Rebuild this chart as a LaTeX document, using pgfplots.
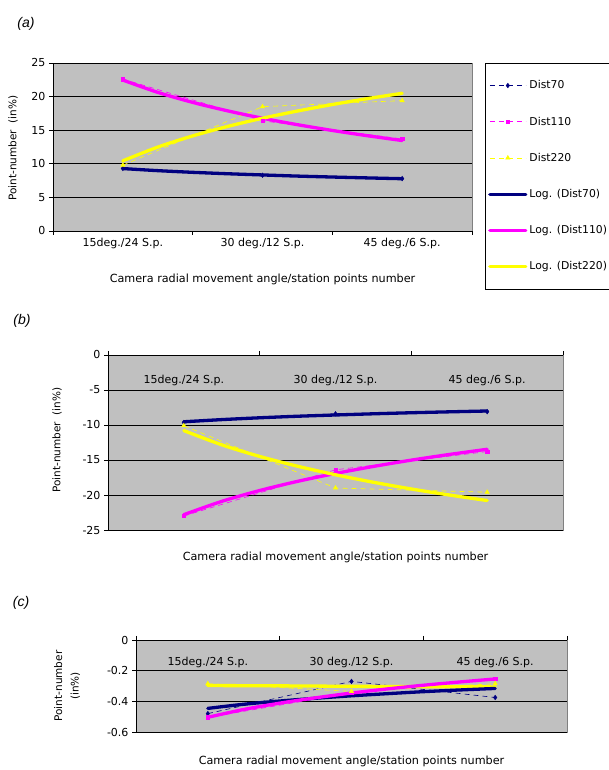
\documentclass[border=0pt]{standalone}
\usepackage{fontspec}
\setmainfont{DejaVu Sans}
\newfontfamily\arialfont{Liberation Sans}
\usepackage{pgfplots}
\pgfplotsset{compat=1.18}
\definecolor{bgray}{HTML}{C0C0C0}
\definecolor{navy}{HTML}{000080}
\definecolor{mag}{HTML}{FF00FF}
\definecolor{yel}{HTML}{FFFF00}
\pgfplotsset{
  common/.style={
    scale only axis,
    xmin=-0.5, xmax=2.5,
    xtick={0,1,2},
    xticklabels={15deg./24 S.p., 30 deg./12 S.p., 45 deg./6 S.p.},
    minor xtick={-0.5,0.5,1.5,2.5},
    major x tick style={draw=none},
    tick align=outside,
    major tick length=4pt, minor tick length=4pt,
    ymajorgrids, major grid style={black, line width=0.6pt},
    axis background/.style={fill=bgray, draw=gray},
    axis line style={black, line width=0.8pt},
    tick style={black, line width=0.6pt},
    /pgf/number format/assume math mode=true,
    tick label style={font=\fontsize{11}{13}\selectfont},
    label style={font=\fontsize{11.2}{13.5}\selectfont},
    legend image code/.code={\draw[mark repeat=2,mark phase=2,##1] plot coordinates {(0pt,0pt) (18pt,0pt) (36pt,0pt)};},
  },
  d70/.style={navy, line width=0.6pt, dash pattern=on 5pt off 4pt, mark=diamond*, mark size=2.2pt, mark options={solid}},
  d110/.style={mag, line width=0.6pt, dash pattern=on 5pt off 4pt, mark=square*, mark size=1.7pt, mark options={solid}},
  d220/.style={yel, line width=0.6pt, dash pattern=on 5pt off 4pt, mark=triangle*, mark size=2.4pt, mark options={solid}},
  trend/.style={line width=3.3pt, no marks, smooth, line cap=round},
}
\begin{document}
\begin{tikzpicture}[x=1pt,y=1pt]
\path[use as bounding box] (0,0) rectangle (609,770);
\node[font=\arialfont\itshape\fontsize{14}{16}\selectfont] at (26,746.5) {(a)};
\node[font=\arialfont\itshape\fontsize{14}{16}\selectfont] at (22,449) {(b)};
\node[font=\arialfont\itshape\fontsize{14}{16}\selectfont] at (21,167) {(c)};

% ---------- (a)
\begin{axis}[common, at={(53pt,539pt)}, anchor=south west, width=419pt, height=168pt,
  ymin=0, ymax=25, ytick={0,5,...,25},
  axis x line*=bottom, axis y line*=left,
  xlabel={Camera radial movement angle/station points number},
  ylabel={Point-number\ \ (in\%)},
  xlabel style={at={(axis description cs:0.5,-0.286)}, anchor=center},
  ylabel style={at={(axis description cs:-0.095,0.494)}, anchor=center, font=\fontsize{10.5}{12.5}\selectfont},
  legend style={at={(1.031,1)}, anchor=north west, draw=black, fill=white,
    row sep=22.5pt, inner xsep=3pt, inner ysep=15.5pt, font=\fontsize{10.8}{13}\selectfont},
  legend cell align=left,
]
\addplot[d70] coordinates {(0,9.3) (1,8.3) (2,7.8)};
\addlegendentry{Dist70}
\addplot[d110] coordinates {(0,22.6) (1,16.4) (2,13.7)};
\addlegendentry{Dist110}
\addplot[d220] coordinates {(0,9.8) (1,18.5) (2,19.4)};
\addlegendentry{Dist220}
\addplot[trend, navy] coordinates {(0,9.29) (0.25,8.98) (0.5,8.73) (0.75,8.52) (1,8.34) (1.25,8.17) (1.5,8.03) (1.75,7.90) (2,7.78)};
\addlegendentry{Log. (Dist70)}
\addplot[trend, mag] coordinates {(0,22.46) (0.25,20.63) (0.5,19.14) (0.75,17.88) (1,16.78) (1.25,15.82) (1.5,14.96) (1.75,14.18) (2,13.46)};
\addlegendentry{Log. (Dist110)}
\addplot[trend, yel] coordinates {(0,10.44) (0.25,12.48) (0.5,14.15) (0.75,15.56) (1,16.78) (1.25,17.85) (1.5,18.82) (1.75,19.69) (2,20.49)};
\addlegendentry{Log. (Dist220)}
\end{axis}

% ---------- (b)
\begin{axis}[common, at={(108pt,240pt)}, anchor=south west, width=455pt, height=175pt,
  ymin=-25, ymax=0, ytick={-25,-20,...,0},
  axis x line*=top, axis y line*=left,
  xticklabel style={anchor=center, yshift=-29pt},
  xlabel={Camera radial movement angle/station points number},
  ylabel={Point-number\ \ (in\%)},
  xlabel style={at={(axis description cs:0.5,-0.154)}, anchor=center},
  ylabel style={at={(axis description cs:-0.112,0.514)}, anchor=center, font=\fontsize{10.5}{12.5}\selectfont},
]
\addplot[d70] coordinates {(0,-9.65) (1,-8.4) (2,-8.1)};
\addplot[d110] coordinates {(0,-23.0) (1,-16.4) (2,-13.8)};
\addplot[d220] coordinates {(0,-10.1) (1,-19.0) (2,-19.6)};
\addplot[trend, navy] coordinates {(0,-9.54) (0.25,-9.23) (0.5,-8.97) (0.75,-8.75) (1,-8.57) (1.25,-8.40) (1.5,-8.25) (1.75,-8.12) (2,-8.00)};
\addplot[trend, mag] coordinates {(0,-22.81) (0.25,-20.91) (0.5,-19.36) (0.75,-18.05) (1,-16.92) (1.25,-15.92) (1.5,-15.02) (1.75,-14.21) (2,-13.47)};
\addplot[trend, yel] coordinates {(0,-10.80) (0.25,-12.83) (0.5,-14.49) (0.75,-15.89) (1,-17.11) (1.25,-18.18) (1.5,-19.14) (1.75,-20.00) (2,-20.79)};
\end{axis}

% ---------- (c)
\begin{axis}[common, at={(136pt,38pt)}, anchor=south west, width=431pt, height=92pt,
  ymin=-0.6, ymax=0, ytick={-0.6,-0.4,-0.2,0},
  yticklabel style={/pgf/number format/.cd, fixed, precision=1},
  axis x line*=top, axis y line*=left,
  xticklabel style={anchor=center, yshift=-26pt},
  xlabel={Camera radial movement angle/station points number},
  ylabel={Point-number\\[4pt](in\%)},
  xlabel style={at={(axis description cs:0.5,-0.315)}, anchor=center},
  ylabel style={at={(axis description cs:-0.16,0.5)}, anchor=center, align=center, font=\fontsize{10.5}{12.5}\selectfont},
]
\addplot[d70] coordinates {(0,-0.48) (1,-0.27) (2,-0.375)};
\addplot[d110] coordinates {(0,-0.505) (1,-0.345) (2,-0.255)};
\addplot[d220] coordinates {(0,-0.285) (1,-0.335) (2,-0.285)};
\addplot[trend, yel] coordinates {(0,-0.297) (0.5,-0.299) (1,-0.302) (1.5,-0.304) (2,-0.306)};
\addplot[trend, navy] coordinates {(0,-0.446) (0.25,-0.419) (0.5,-0.398) (0.75,-0.380) (1,-0.364) (1.25,-0.350) (1.5,-0.337) (1.75,-0.326) (2,-0.316)};
\addplot[trend, mag] coordinates {(0,-0.504) (0.25,-0.453) (0.5,-0.412) (0.75,-0.377) (1,-0.346) (1.25,-0.319) (1.5,-0.295) (1.75,-0.274) (2,-0.254)};
\end{axis}
\end{tikzpicture}
\end{document}
